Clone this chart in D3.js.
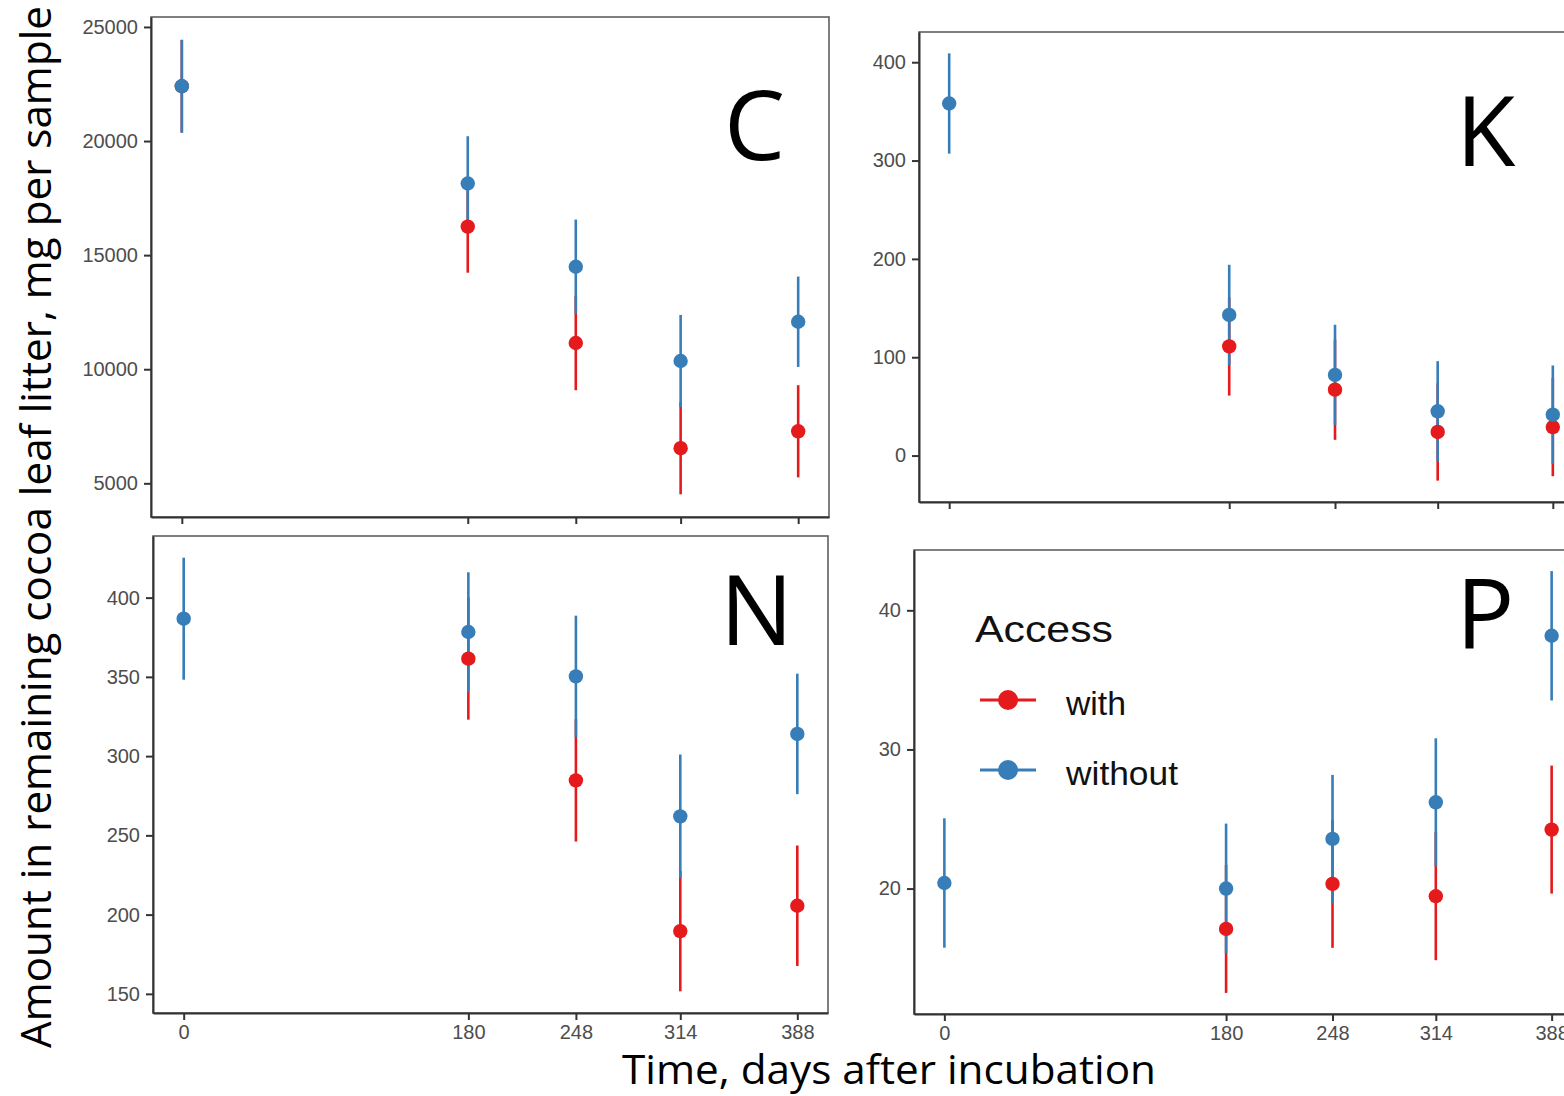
<!DOCTYPE html>
<html>
<head>
<meta charset="utf-8">
<script src="https://cdn.jsdelivr.net/npm/d3@7"></script>
<style>
  body { margin: 0; background: #fff; }
  svg { display: block; }
</style>
</head>
<body>
<div id="chart"></div>
<script>
// time points (days after incubation)
const days = [0, 180, 248, 314, 388];

// C
const cWith = [22400, 16250, 11150, 6540, 7280];
const cWithErr = [2020, 2020, 2070, 2020, 2020];
const cWithout = [22400, 18140, 14490, 10360, 12080];
const cWithoutErr = [2040, 2070, 2070, 2020, 1980];
const cTicks = [5000, 10000, 15000, 20000, 25000];

// K
const kWith = [null, 111, 67, 24, 29];
const kWithErr = [null, 50, 51, 49.5, 50];
const kWithout = [358, 143, 82, 45, 41.6];
const kWithoutErr = [51, 51, 51, 51, 50];
const kTicks = [0, 100, 200, 300, 400];

// N
const nWith = [null, 361.5, 284.7, 189.6, 205.6];
const nWithErr = [null, 38.5, 38.6, 38, 38];
const nWithout = [386.7, 378.3, 350.3, 262, 314];
const nWithoutErr = [38.5, 37.7, 38.3, 39, 38];
const nTicks = [150, 200, 250, 300, 350, 400];

// P
const pWith = [null, 17.1, 20.34, 19.45, 24.24];
const pWithErr = [null, 4.6, 4.6, 4.6, 4.6];
const pWithout = [20.4, 20.0, 23.57, 26.2, 38.17];
const pWithoutErr = [4.65, 4.67, 4.6, 4.6, 4.65];
const pTicks = [20, 30, 40];

const groups = ['with', 'without'];
const colors = ['#E41A1C', '#377EB8'];

const width = 1564;
const height = 1096;

const svg = d3.select('#chart').append('svg')
  .attr('width', width)
  .attr('height', height);

const panels = [
  {letter: 'C', w: cWith, we: cWithErr, wo: cWithout, woe: cWithoutErr, ticks: cTicks,
   left: 151, right: 829, top: 17, bottom: 517, labels: false, lx: 724, ly: 160},
  {letter: 'K', w: kWith, we: kWithErr, wo: kWithout, woe: kWithoutErr, ticks: kTicks,
   left: 919, right: 1583, top: 32, bottom: 502, labels: false, lx: 1456, ly: 166},
  {letter: 'N', w: nWith, we: nWithErr, wo: nWithout, woe: nWithoutErr, ticks: nTicks,
   left: 153, right: 828, top: 536, bottom: 1013, labels: true, lx: 720, ly: 645},
  {letter: 'P', w: pWith, we: pWithErr, wo: pWithout, woe: pWithoutErr, ticks: pTicks,
   left: 914, right: 1582, top: 550, bottom: 1014, labels: true, lx: 1456, ly: 648}
];

// ggplot style 5% expansion
function expand(lo, hi) {
  const pad = (hi - lo) * 0.05;
  return [lo - pad, hi + pad];
}

panels.forEach((p) => {
  const series = [
    days.map((d, i) => ({day: d, mean: p.w[i], err: p.we[i], g: 0})).filter((d) => d.mean != null),
    days.map((d, i) => ({day: d, mean: p.wo[i], err: p.woe[i], g: 1})).filter((d) => d.mean != null)
  ];
  const all = series[0].concat(series[1]);
  const lo = d3.min(all, (d) => d.mean - d.err);
  const hi = d3.max(all, (d) => d.mean + d.err);

  const x = d3.scaleLinear()
    .domain(expand(d3.min(days), d3.max(days)))
    .range([p.left, p.right]);

  const y = d3.scaleLinear()
    .domain(expand(lo, hi))
    .range([p.bottom, p.top]);

  const g = svg.append('g').attr('class', 'panel');

  g.append('rect')
    .attr('x', p.left)
    .attr('y', p.top)
    .attr('width', p.right - p.left)
    .attr('height', p.bottom - p.top)
    .attr('fill', 'none')
    .attr('stroke', '#555')
    .attr('stroke-width', 1.5);

  const yAxis = d3.axisLeft(y)
    .tickValues(p.ticks)
    .tickSize(7)
    .tickSizeOuter(0)
    .tickPadding(6)
    .tickFormat(d3.format('d'));

  const groupAxisY = g.append('g')
    .attr('transform', `translate(${p.left}, 0)`)
    .call(yAxis);

  const xAxis = d3.axisBottom(x)
    .tickValues(days)
    .tickSize(7)
    .tickSizeOuter(0)
    .tickPadding(5)
    .tickFormat(p.labels ? d3.format('d') : () => '');

  const groupAxisX = g.append('g')
    .attr('transform', `translate(0, ${p.bottom})`)
    .call(xAxis);

  [groupAxisX, groupAxisY].forEach((ax) => {
    ax.select('.domain').attr('stroke', '#333').attr('stroke-width', 2);
    ax.selectAll('.tick line').attr('stroke', '#333').attr('stroke-width', 2);
    ax.selectAll('.tick text')
      .attr('fill', '#4d4d4d')
      .style('font-family', '"Liberation Sans", Arial, sans-serif')
      .style('font-size', '20px');
  });

  // error bars first, then points (like geom_pointrange)
  series.forEach((s) => {
    g.selectAll(null)
      .data(s)
      .enter()
      .append('line')
      .attr('x1', (d) => x(d.day))
      .attr('x2', (d) => x(d.day))
      .attr('y1', (d) => y(d.mean - d.err))
      .attr('y2', (d) => y(d.mean + d.err))
      .attr('stroke', (d) => colors[d.g])
      .attr('stroke-width', 2.6);
  });

  series.forEach((s) => {
    g.selectAll(null)
      .data(s)
      .enter()
      .append('circle')
      .attr('cx', (d) => x(d.day))
      .attr('cy', (d) => y(d.mean))
      .attr('r', 7.2)
      .attr('fill', (d) => colors[d.g]);
  });

  g.append('text')
    .attr('x', p.lx)
    .attr('y', p.ly)
    .attr('fill', '#000')
    .style('font-family', '"Open Sans", sans-serif')
    .style('font-size', '97px')
    .text(p.letter);
});

// legend
const legend = svg.append('g').attr('class', 'legend');

legend.append('text')
  .attr('x', 975)
  .attr('y', 642)
  .attr('textLength', 138)
  .attr('lengthAdjust', 'spacingAndGlyphs')
  .attr('fill', '#111')
  .style('font-family', '"Liberation Sans", Arial, sans-serif')
  .style('font-size', '36px')
  .text('Access');

const legendLabelLength = [60, 112];
groups.forEach((name, i) => {
  const cy = 700 + i * 70;
  legend.append('line')
    .attr('x1', 980).attr('x2', 1036)
    .attr('y1', cy).attr('y2', cy)
    .attr('stroke', colors[i])
    .attr('stroke-width', 3);
  legend.append('circle')
    .attr('cx', 1008)
    .attr('cy', cy)
    .attr('r', 10)
    .attr('fill', colors[i]);
  legend.append('text')
    .attr('x', 1066)
    .attr('y', cy + 15)
    .attr('textLength', legendLabelLength[i])
    .attr('lengthAdjust', 'spacingAndGlyphs')
    .attr('fill', '#111')
    .style('font-family', '"Liberation Sans", Arial, sans-serif')
    .style('font-size', '34px')
    .text(name);
});

// shared axis titles
svg.append('text')
  .attr('transform', 'translate(51, 527) rotate(-90)')
  .attr('text-anchor', 'middle')
  .attr('textLength', 1042)
  .attr('lengthAdjust', 'spacingAndGlyphs')
  .attr('fill', '#000')
  .style('font-family', '"Open Sans", sans-serif')
  .style('font-size', '42px')
  .text('Amount in remaining cocoa leaf litter, mg per sample');

svg.append('text')
  .attr('x', 622)
  .attr('y', 1084)
  .attr('textLength', 534)
  .attr('lengthAdjust', 'spacingAndGlyphs')
  .attr('fill', '#000')
  .style('font-family', '"Open Sans", sans-serif')
  .style('font-size', '41px')
  .text('Time, days after incubation');
</script>
</body>
</html>
